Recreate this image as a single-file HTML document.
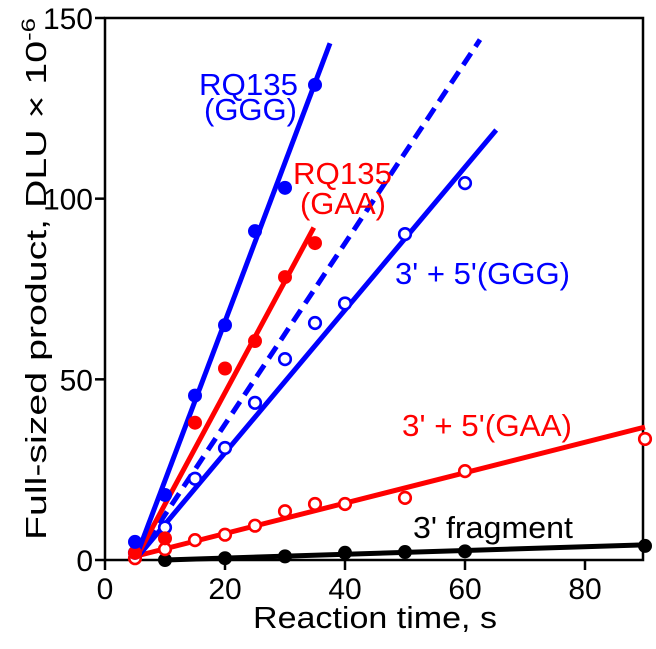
<!DOCTYPE html>
<html><head><meta charset="utf-8"><style>
html,body{margin:0;padding:0;background:#fff;}
svg{display:block;font-family:"Liberation Sans",Arial,sans-serif;}
</style></head><body>
<svg id="chart" width="656" height="649" viewBox="0 0 656 649" xmlns="http://www.w3.org/2000/svg">
<g id="axes"></g>
<g id="series"></g>
<g id="labels">
<text x="199" y="95" fill="#0000ff" font-size="31" textLength="99" lengthAdjust="spacingAndGlyphs">RQ135</text>
<text x="204" y="120" fill="#0000ff" font-size="31" textLength="93" lengthAdjust="spacingAndGlyphs">(GGG)</text>
<text x="293" y="184" fill="#ff0000" font-size="31" textLength="99" lengthAdjust="spacingAndGlyphs">RQ135</text>
<text x="300" y="214" fill="#ff0000" font-size="31" textLength="86" lengthAdjust="spacingAndGlyphs">(GAA)</text>
<text x="395" y="284" fill="#0000ff" font-size="31" textLength="175" lengthAdjust="spacingAndGlyphs">3' + 5'(GGG)</text>
<text x="402" y="436" fill="#ff0000" font-size="31" textLength="170" lengthAdjust="spacingAndGlyphs">3' + 5'(GAA)</text>
<text x="413" y="538" fill="#000" font-size="31" textLength="160" lengthAdjust="spacingAndGlyphs">3' fragment</text>
<text x="253" y="628" font-size="31" textLength="244" lengthAdjust="spacingAndGlyphs">Reaction time, s</text>
<text transform="translate(46,540) rotate(-90)" font-size="29" textLength="522" lengthAdjust="spacingAndGlyphs">Full-sized product, DLU × 10<tspan dy="-11" font-size="19">-6</tspan></text>
</g>
</svg>
<script>
const xTicks=[0,20,40,60,80];
const yTicks=[0,50,100,150];
const tGGG=[5,10,15,20,25,30,35];
const vGGG=[5,18,45.5,65,91,103,131.5];
const tGAA=[5,10,15,20,25,30,35];
const vGAA=[2,6,38,53,60.6,78.3,87.7];
const t35GGG=[5,10,15,20,25,30,35,40,50,60];
const v35GGG=[2,9,22.5,31,43.5,55.6,65.6,71,90.2,104.3];
const t35GAA=[5,10,15,20,25,30,35,40,50,60,90];
const v35GAA=[0.5,3,5.5,7,9.5,13.5,15.5,15.5,17.2,24.6,33.5];
const tFrag=[10,20,30,40,50,60,90];
const vFrag=[0,0.5,1,2,2.2,2.4,3.9];
const fitGGG=[[5,0],[37.5,143]];
const fitGAA=[[5,0],[34.8,92]];
const fitDash=[[5,0],[62.5,144]];
const fit35GGG=[[5,0],[65.2,119]];
const fit35GAA=[[5,1],[90,36.8]];
const fitFrag=[[10,0],[90,4.2]];

const NS='http://www.w3.org/2000/svg';
const X=v=>105+6*v;
const Y=v=>560-(542/150)*v;
function mk(tag,attrs,parent){const e=document.createElementNS(NS,tag);for(const k in attrs)e.setAttribute(k,attrs[k]);parent.appendChild(e);return e;}
const axes=document.getElementById('axes'), ser=document.getElementById('series');
let f=mk('rect',{x:105,y:18,width:538,height:542,fill:'none',stroke:'#000','stroke-width':2.5},axes);


xTicks.forEach(t=>{
  let l=mk('line',{x1:X(t),x2:X(t),y1:560,y2:570,stroke:'#000','stroke-width':2.5},axes);
  
  
  let tx=mk('text',{x:X(t),y:599,'font-size':30,'text-anchor':'middle'},axes);tx.textContent=t;
  
  
});
yTicks.forEach(t=>{
  let l=mk('line',{x1:95,x2:105,y1:Y(t),y2:Y(t),stroke:'#000','stroke-width':2.5},axes);
  
  
  let tx=mk('text',{x:93,y:Y(t)+11,'font-size':30,'text-anchor':'end'},axes);tx.textContent=t;
  
  
});
function fit(p,color,name,dash){
  let l=mk('line',{x1:X(p[0][0]),y1:Y(p[0][1]),x2:X(p[1][0]),y2:Y(p[1][1]),stroke:color,'stroke-width':5},ser);
  if(dash)l.setAttribute('stroke-dasharray','14 8');
  
  
}
function pts(ts,vs,color,filled,name){
  ts.forEach((t,i)=>{
    let c=mk('circle',{cx:X(t),cy:Y(vs[i]),r:filled?7:5.8,fill:filled?color:'#fff',stroke:color,'stroke-width':filled?0:2.6},ser);
    
    
  });
}
fit(fitFrag,'#000','fit-3-fragment');
fit(fit35GAA,'#ff0000','fit-35-gaa');
fit(fit35GGG,'#0000ff','fit-35-ggg');
fit(fitDash,'#0000ff','fit-dashed',true);
fit(fitGAA,'#ff0000','fit-rq135-gaa');
fit(fitGGG,'#0000ff','fit-rq135-ggg');
pts(tFrag,vFrag,'#000',true,'point-3-fragment');
pts(t35GAA,v35GAA,'#ff0000',false,'point-35-gaa');
pts(t35GGG,v35GGG,'#0000ff',false,'point-35-ggg');
pts(tGAA,vGAA,'#ff0000',true,'point-rq135-gaa');
pts(tGGG,vGGG,'#0000ff',true,'point-rq135-ggg');
</script>
</body></html>
